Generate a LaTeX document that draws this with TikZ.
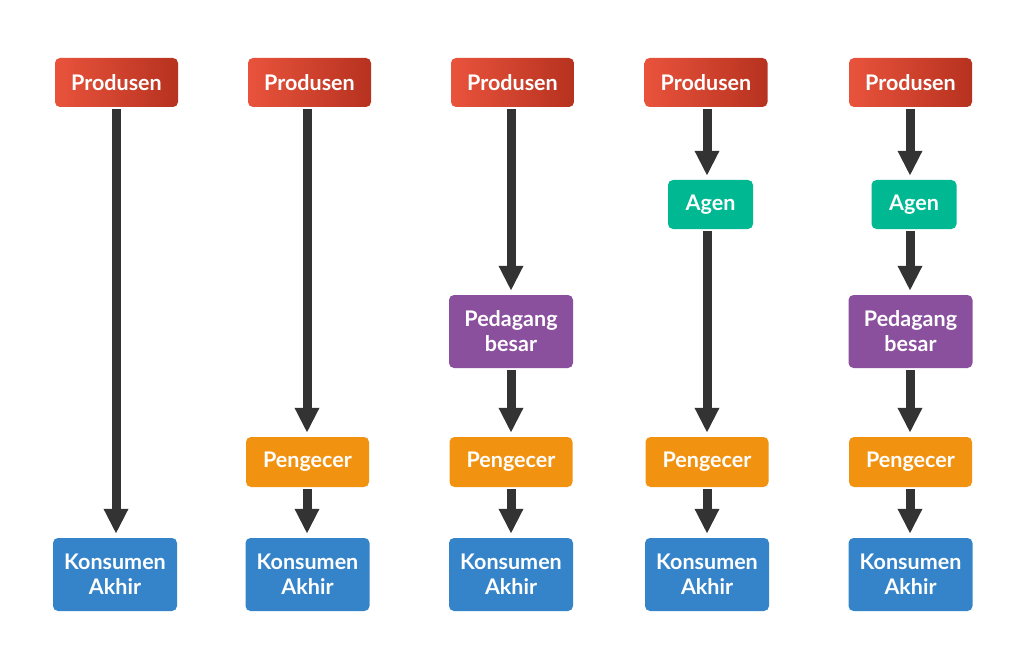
\documentclass[tikz,border=0pt]{standalone}
\usepackage{fontspec}
\setmainfont{Lato}
\usetikzlibrary{arrows.meta,shadings}
\definecolor{redL}{HTML}{E9533C}
\definecolor{redR}{HTML}{B6321F}
\definecolor{agenC}{HTML}{00B993}
\definecolor{purC}{HTML}{8A509E}
\definecolor{oraC}{HTML}{F19310}
\definecolor{bluC}{HTML}{3584C9}
\definecolor{arrC}{HTML}{333333}
\begin{document}
\begin{tikzpicture}[x=1pt,y=-1pt,
  box/.style={rounded corners=5pt,text=white,font=\fontsize{21.5}{25}\selectfont\bfseries,align=center,inner sep=0pt,minimum height=49pt},
  prod/.style={box,left color=redL,right color=redR,minimum width=123pt},
  agen/.style={box,fill=agenC,minimum width=85pt},
  ped/.style={box,fill=purC,minimum width=124pt,minimum height=73pt},
  peng/.style={box,fill=oraC,minimum width=123pt,minimum height=50pt},
  kons/.style={box,fill=bluC,minimum width=124pt,minimum height=73pt},
  flow/.style={draw=arrC,line width=9pt,-{Triangle[width=23pt,length=25pt]},shorten <=2pt,shorten >=4pt}]
\useasboundingbox (0,0) rectangle (1023,650);
% column 1
\node[prod] (p1) at (116.5,82.5) {Produsen};
\node[kons] (k1) at (115,574.5) {Konsumen\\Akhir};
% column 2
\node[prod] (p2) at (309.5,82.5) {Produsen};
\node[peng] (g2) at (307.5,462) {Pengecer};
\node[kons] (k2) at (307.5,574.5) {Konsumen\\Akhir};
% column 3
\node[prod] (p3) at (512.5,82.5) {Produsen};
\node[ped] (d3) at (511,331.5) {Pedagang\\besar};
\node[peng] (g3) at (511,462) {Pengecer};
\node[kons] (k3) at (511,574.5) {Konsumen\\Akhir};
% column 4
\node[prod] (p4) at (706,82.5) {Produsen};
\node[agen] (a4) at (710.5,204.5) {Agen};
\node[peng] (g4) at (707,462) {Pengecer};
\node[kons] (k4) at (707,574.5) {Konsumen\\Akhir};
% column 5
\node[prod] (p5) at (910.5,82.5) {Produsen};
\node[agen] (a5) at (914,204.5) {Agen};
\node[ped] (d5) at (910.5,331.5) {Pedagang\\besar};
\node[peng] (g5) at (910.5,462) {Pengecer};
\node[kons] (k5) at (910.5,574.5) {Konsumen\\Akhir};
% arrows
\draw[flow] (p1.south -| 116,0) -- (k1.north -| 116,0);
\draw[flow] (p2.south -| 307,0) -- (g2.north -| 307,0);
\draw[flow] (g2.south -| 307,0) -- (k2.north -| 307,0);
\draw[flow] (p3.south -| 511,0) -- (d3.north -| 511,0);
\draw[flow] (d3.south -| 511,0) -- (g3.north -| 511,0);
\draw[flow] (g3.south -| 511,0) -- (k3.north -| 511,0);
\draw[flow] (p4.south -| 707,0) -- (a4.north -| 707,0);
\draw[flow] (a4.south -| 707,0) -- (g4.north -| 707,0);
\draw[flow] (g4.south -| 707,0) -- (k4.north -| 707,0);
\draw[flow] (p5.south -| 910,0) -- (a5.north -| 910,0);
\draw[flow] (a5.south -| 910,0) -- (d5.north -| 910,0);
\draw[flow] (d5.south -| 910,0) -- (g5.north -| 910,0);
\draw[flow] (g5.south -| 910,0) -- (k5.north -| 910,0);
\end{tikzpicture}
\end{document}
